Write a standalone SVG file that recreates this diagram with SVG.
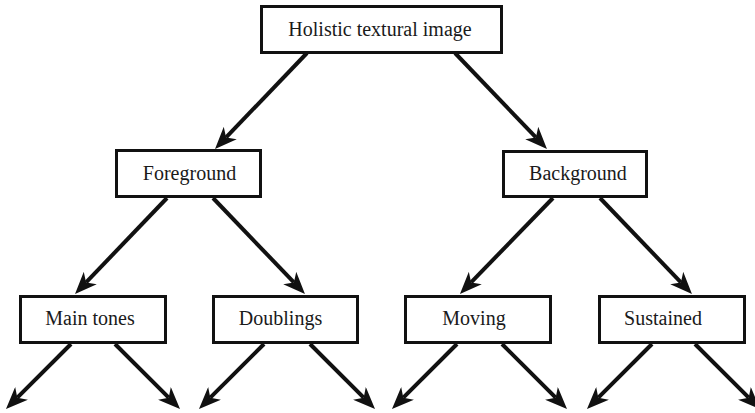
<svg xmlns="http://www.w3.org/2000/svg" width="755" height="413" viewBox="0 0 755 413">
<style>
.box{fill:#fff;stroke:#111;stroke-width:3}
.lbl{font-family:'Liberation Serif','Times New Roman',serif;font-size:20px;fill:#1a1a1a;text-anchor:middle}
.conn line{stroke:#111;stroke-width:4;fill:none;marker-end:url(#ah)}
</style>
<defs>
<marker id="ah" markerUnits="userSpaceOnUse" viewBox="0 0 22 18" markerWidth="22" markerHeight="18" refX="6" refY="9" orient="auto">
<path d="M0,0 L22,9 L0,18 L6,9 Z" fill="#111"/>
</marker>
</defs>
<rect width="755" height="413" fill="#fff"/>
<g id="connectors" class="conn">
<line x1="307" y1="53" x2="226.1" y2="137.4"/>
<line x1="455" y1="53" x2="535.9" y2="137.4"/>
<line x1="167" y1="198" x2="86.1" y2="282.4"/>
<line x1="213" y1="198" x2="293.9" y2="282.4"/>
<line x1="553" y1="198" x2="471.1" y2="282.4"/>
<line x1="600" y1="198" x2="680.9" y2="282.4"/>
<line x1="71" y1="344" x2="17.3" y2="397.7"/>
<line x1="115" y1="344" x2="168.7" y2="397.7"/>
<line x1="264" y1="344" x2="210.3" y2="397.7"/>
<line x1="310" y1="344" x2="363.7" y2="397.7"/>
<line x1="457" y1="344" x2="403.3" y2="397.7"/>
<line x1="502" y1="344" x2="555.7" y2="397.7"/>
<line x1="652" y1="344" x2="598.3" y2="397.7"/>
<line x1="695" y1="344" x2="748.7" y2="397.7"/>
</g>
<g id="holistic">
<rect class="box" x="261.5" y="6.5" width="240" height="46"/>
<text class="lbl" x="380" y="36">Holistic textural image</text>
</g>
<g id="foreground">
<rect class="box" x="116.5" y="150.5" width="144" height="46"/>
<text class="lbl" x="189.5" y="180">Foreground</text>
</g>
<g id="background">
<rect class="box" x="503.5" y="151.5" width="143" height="45"/>
<text class="lbl" x="578" y="180">Background</text>
</g>
<g id="main-tones">
<rect class="box" x="20.5" y="296.5" width="145" height="46"/>
<text class="lbl" x="90" y="325">Main tones</text>
</g>
<g id="doublings">
<rect class="box" x="213.5" y="296.5" width="144" height="46"/>
<text class="lbl" x="280.5" y="325">Doublings</text>
</g>
<g id="moving">
<rect class="box" x="405.5" y="296.5" width="145" height="46"/>
<text class="lbl" x="474" y="325">Moving</text>
</g>
<g id="sustained">
<rect class="box" x="599.5" y="296.5" width="145" height="46"/>
<text class="lbl" x="663" y="325">Sustained</text>
</g>
</svg>
